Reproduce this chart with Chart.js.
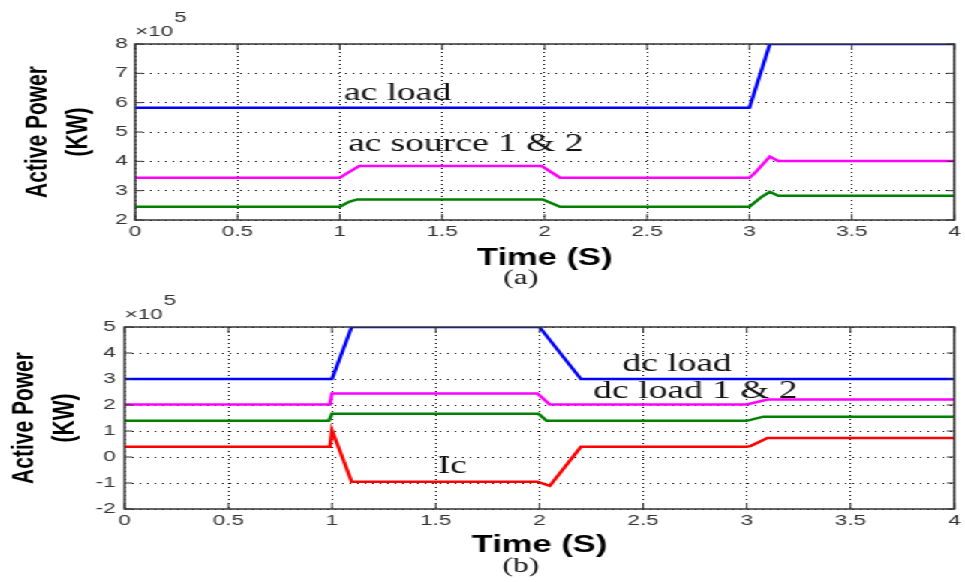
<!DOCTYPE html>
<html>
<head>
<meta charset="utf-8">
<script src="https://cdn.jsdelivr.net/npm/chart.js"></script>
<style>
  html, body { margin: 0; padding: 0; background: #fff; overflow: hidden; }
  /* the original figure is stretched sideways, so draw narrow and stretch */
  #wrap { position: absolute; left: 0; top: 0; width: 643px; height: 582px; transform: scaleX(1.5008); transform-origin: 0 0; }
  #boxA { position: absolute; left: 0; top: 0; width: 643px; height: 290px; }
  #boxB { position: absolute; left: 0; top: 290px; width: 643px; height: 292px; }
</style>
</head>
<body>
<div id="wrap">
  <div id="boxA"><canvas id="chartA"></canvas></div>
  <div id="boxB"><canvas id="chartB"></canvas></div>
</div>
<script>
// ---- data (time in s, power in W) ----
const timeTicks = [0, 0.5, 1, 1.5, 2, 2.5, 3, 3.5, 4];
const powerTicksA = [200000, 300000, 400000, 500000, 600000, 700000, 800000];
const powerTicksB = [-200000, -100000, 0, 100000, 200000, 300000, 400000, 500000];

// (a) ac side
const acLoadT = [0, 3.0, 3.1, 4];
const acLoadP = [583000, 583000, 800000, 800000];
const acSource1T = [0, 1.0, 1.03, 1.095, 1.985, 2.075, 3.0, 3.025, 3.1, 3.14, 4];
const acSource1P = [344000, 344000, 357000, 384000, 384000, 344000, 344000, 359000, 416000, 401000, 401000];
const acSource2T = [0, 1.0, 1.045, 1.085, 1.99, 2.075, 3.0, 3.06, 3.1, 3.14, 4];
const acSource2P = [245000, 245000, 262000, 270000, 270000, 245000, 245000, 279000, 296000, 283000, 283000];

// (b) dc side
const dcLoadT = [0, 1.0, 1.095, 2.0, 2.2, 4];
const dcLoadP = [300000, 300000, 500000, 500000, 300000, 300000];
const dcLoad1T = [0, 0.99, 1.0, 1.99, 2.05, 3.0, 3.1, 4];
const dcLoad1P = [202000, 202000, 244000, 244000, 202000, 202000, 221000, 221000];
const dcLoad2T = [0, 0.985, 1.0, 1.995, 2.035, 3.0, 3.08, 4];
const dcLoad2P = [139000, 139000, 166000, 166000, 139000, 139000, 155000, 155000];
const icT = [0, 0.99, 1.0, 1.095, 1.99, 2.05, 2.2, 3.0, 3.02, 3.1, 4];
const icP = [39000, 39000, 103000, -95000, -95000, -111000, 39000, 39000, 43000, 73000, 73000];

function pts(t, p) {
  return t.map((x, i) => ({ x: x, y: p[i] }));
}

// box, inward ticks, in-plot labels, x10^5 and panel tag
const framePlugin = {
  id: 'frame',
  afterDraw(chart, args, opts) {
    const ctx = chart.ctx;
    const a = chart.chartArea;
    const xs = chart.scales.x, ys = chart.scales.y;
    ctx.save();
    ctx.strokeStyle = '#333';
    ctx.lineWidth = 1;
    ctx.beginPath();
    xs.ticks.forEach(t => {
      const px = xs.getPixelForValue(t.value);
      ctx.moveTo(px, a.bottom); ctx.lineTo(px, a.bottom - 6);
      ctx.moveTo(px, a.top); ctx.lineTo(px, a.top + 6);
    });
    ys.ticks.forEach(t => {
      const py = ys.getPixelForValue(t.value);
      ctx.moveTo(a.left, py); ctx.lineTo(a.left + 5, py);
      ctx.moveTo(a.right, py); ctx.lineTo(a.right - 5, py);
    });
    ctx.stroke();
    ctx.lineWidth = 1.5;
    ctx.strokeRect(a.left, a.top, a.right - a.left, a.bottom - a.top);

    ctx.fillStyle = '#111';
    ctx.font = '25px "Liberation Serif", "Times New Roman", serif';
    ctx.textAlign = 'left';
    ctx.textBaseline = 'alphabetic';
    opts.notes.forEach(n => {
      ctx.fillText(n.text, xs.getPixelForValue(n.x), ys.getPixelForValue(n.y));
    });

    ctx.fillStyle = '#333';
    ctx.font = '15px "Liberation Sans", Arial, sans-serif';
    ctx.fillText('\u00d710', a.left, a.top - 8);
    ctx.fillText('5', a.left + 26, a.top - 22);

    ctx.fillStyle = '#111';
    ctx.font = '21px "Liberation Serif", "Times New Roman", serif';
    ctx.textAlign = 'center';
    ctx.textBaseline = 'middle';
    ctx.fillText(opts.tag, opts.tagX, opts.tagY);
    ctx.restore();
  }
};

function makeChart(id, datasets, yTicks, cfg) {
  const tickFont = { family: '"Liberation Sans", Arial, sans-serif', size: 15 };
  return new Chart(document.getElementById(id), {
    type: 'line',
    data: { datasets: datasets },
    options: {
      responsive: true,
      maintainAspectRatio: false,
      animation: false,
      layout: { padding: { top: cfg.top, right: cfg.right, bottom: 0, left: 0 } },
      elements: {
        point: { radius: 0 },
        line: { tension: 0, borderWidth: 2.5 }
      },
      plugins: {
        legend: { display: false },
        tooltip: { enabled: false },
        frame: { notes: cfg.notes, tag: cfg.tag, tagX: cfg.tagX, tagY: cfg.tagY }
      },
      scales: {
        x: {
          type: 'linear',
          min: 0,
          max: 4,
          afterBuildTicks: s => { s.ticks = timeTicks.map(v => ({ value: v })); },
          afterFit: s => { s.height = cfg.xHeight; },
          grid: { color: '#000', lineWidth: 1, drawTicks: false },
          border: { display: false, dash: [1, 3] },
          ticks: {
            padding: 3,
            maxRotation: 0,
            color: '#333',
            font: tickFont,
            callback: v => String(v)
          },
          title: {
            display: true,
            text: 'Time (S)',
            color: '#000',
            font: { family: '"Liberation Sans", Arial, sans-serif', size: 23, weight: 'bold', lineHeight: 1.2 },
            padding: { top: 0, bottom: cfg.xTitlePad }
          }
        },
        y: {
          min: yTicks[0],
          max: yTicks[yTicks.length - 1],
          afterBuildTicks: s => { s.ticks = yTicks.map(v => ({ value: v })); },
          afterFit: s => { s.width = cfg.yWidth; },
          grid: { color: '#000', lineWidth: 1, drawTicks: false },
          border: { display: false, dash: [1, 4] },
          ticks: {
            padding: cfg.yTickPad,
            color: '#333',
            font: tickFont,
            callback: v => String(v / 100000)
          },
          title: {
            display: true,
            text: ['Active Power', '(KW)'],
            color: '#000',
            font: { family: '"Liberation Sans", Arial, sans-serif', size: 21, weight: 'bold', lineHeight: 1.3 },
            padding: { top: cfg.yTitlePad, bottom: 0 }
          }
        }
      }
    },
    plugins: [framePlugin]
  });
}

makeChart('chartA', [
  { label: 'ac load', data: pts(acLoadT, acLoadP), borderColor: '#0000ff' },
  { label: 'ac source 1', data: pts(acSource1T, acSource1P), borderColor: '#ff00ff' },
  { label: 'ac source 2', data: pts(acSource2T, acSource2P), borderColor: '#008000' }
], powerTicksA, {
  top: 44, right: 5, xHeight: 70, yWidth: 90, yTickPad: 5, xTitlePad: 18, yTitlePad: 11.7,
  notes: [
    { text: 'ac load', x: 1.02, y: 609000 },
    { text: 'ac source 1 & 2', x: 1.04, y: 435000 }
  ],
  tag: '(a)', tagX: 347, tagY: 278
});

makeChart('chartB', [
  { label: 'dc load', data: pts(dcLoadT, dcLoadP), borderColor: '#0000ff' },
  { label: 'dc load 1', data: pts(dcLoad1T, dcLoad1P), borderColor: '#ff00ff' },
  { label: 'dc load 2', data: pts(dcLoad2T, dcLoad2P), borderColor: '#008000' },
  { label: 'Ic', data: pts(icT, icP), borderColor: '#ff0000' }
], powerTicksB, {
  top: 37, right: 1, xHeight: 73, yWidth: 83, yTickPad: 6, xTitlePad: 23, yTitlePad: 2.7,
  notes: [
    { text: 'dc load', x: 2.40, y: 330000 },
    { text: 'dc load 1 & 2', x: 2.26, y: 227000 },
    { text: 'Ic', x: 1.51, y: -61000 }
  ],
  tag: '(b)', tagX: 347, tagY: 276
});
</script>
</body>
</html>
